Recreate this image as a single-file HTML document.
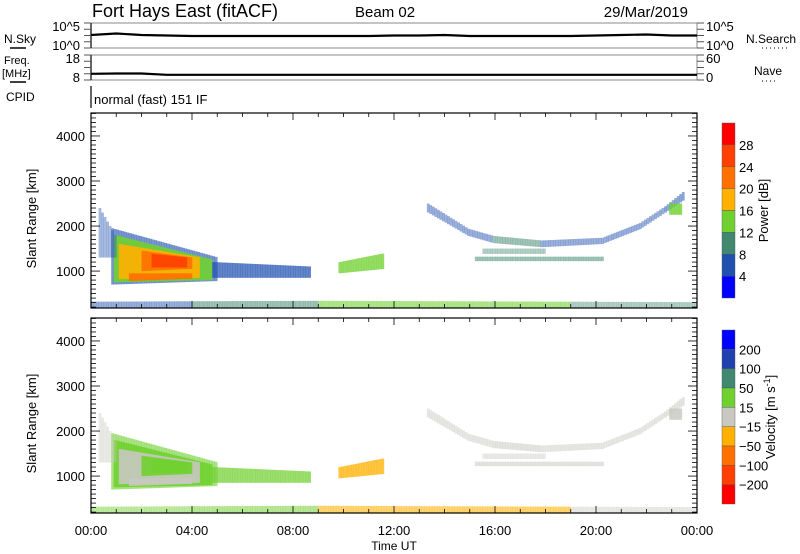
<!DOCTYPE html>
<html><head><meta charset="utf-8">
<style>
html,body{margin:0;padding:0;background:#fff;}
svg{display:block;font-family:"Liberation Sans","DejaVu Sans",sans-serif;}
</style></head>
<body>
<svg id="chart" width="800" height="554" viewBox="0 0 800 554" xmlns="http://www.w3.org/2000/svg">
<g>
<text x="92" y="17" font-size="18">Fort Hays East (fitACF)</text>
<text x="355" y="17" font-size="15">Beam 02</text>
<text x="688" y="17" font-size="15" text-anchor="end">29/Mar/2019</text>
</g>
<g id="top"></g>
<g id="p1"></g>
<g id="p2"></g>
<g id="cb"></g>
</svg>
<script>
// ---- data ----
const patchT0  = [0.8,0.9,1.1,1.5,2.0,2.4,4.8,9.8,0.3, 0,4,9,19, 13.3,14.9,15.9,17.8,20.2,21.7,22.7, 22.9,15.2,15.5];
const patchT1  = [5.0,4.8,4.3,4.0,4.0,3.8,8.7,11.6,1.0, 4,9,19,24, 14.9,15.9,17.8,20.2,21.7,22.7,23.5, 23.4,20.3,18.0];
const patchLo0 = [700,750,820,780,1000,1080,850,950,1300, 180,180,180,180, 2300,1780,1620,1530,1600,1930,2300, 2250,1220,1380];
const patchHi0 = [1950,1800,1600,950,1450,1380,1200,1200,2400, 320,330,340,320, 2500,1940,1780,1680,1740,2070,2440, 2500,1320,1500];
const patchLo1 = [780,800,850,830,1050,1080,850,1050,1300, 180,180,180,180, 1780,1620,1530,1600,1930,2300,2600, 2250,1220,1380];
const patchHi1 = [1300,1250,1300,950,1300,1300,1100,1400,1700, 330,340,320,310, 1940,1780,1680,1740,2070,2440,2800, 2500,1320,1500];
const patchPow = [6,14,18,20,22,26,6,12,6, 6,10,14,8, 6,6,8,6,6,6,6, 14,10,8];
const patchVel = [30,30,0,0,30,30,30,-30,0, 20,20,-30,10, 0,0,0,0,0,0,0, 0,0,0];
const patchOpacity = [0.6,0.9,0.9,0.9,0.9,0.9,0.7,0.75,0.4, 0.45,0.5,0.55,0.4, 0.45,0.45,0.5,0.45,0.45,0.45,0.5, 0.8,0.5,0.4];
const skyValues  = [2.6,2.9,2.6,2.5,2.4,2.4,2.4,2.4,2.4,2.4,2.4,2.4,2.5,2.5,2.6,2.4,2.4,2.4,2.4,2.4,2.5,2.6,2.7,2.5,2.5];
const freqValues = [10.5,10.6,10.6,10.1,10.1,10.1,10.1,10.1,10.1,10.1,10.1,10.1,10.1,10.1,10.1,10.1,10.1,10.1,10.1,10.1,10.1,10.1,10.1,10.1,10.1];
const powerBounds = ["28","24","20","16","12","8","4"];
const velBounds = ["200","100","50","15","\u221215","\u221250","\u2212100","\u2212200"];
const timeLabels = ["00:00","04:00","08:00","12:00","16:00","20:00","00:00"];
const rangeTicks = [1000,2000,3000,4000];

// ---- geometry ----
const X0=91, X1=697;
const xT = t => X0 + t/24*(X1-X0);
const P1 = {top:113,bot:308}, P2 = {top:318,bot:513};
const yR = (r,p) => p.bot - (r-180)/(4510-180)*(p.bot-p.top);
const NS="http://www.w3.org/2000/svg";
function mk(tag,attrs,parent,txt){const e=document.createElementNS(NS,tag);for(const k in attrs)e.setAttribute(k,attrs[k]);if(txt!==undefined)e.textContent=txt;parent.appendChild(e);return e;}
const powCols=["#0000ff","#2050b0","#408870","#70d030","#ffb000","#ff7000","#ff4000","#ff0000"];
const velCols=["#0000ff","#2040b0","#408870","#70d030","#c8c8c0","#ffb000","#ff7000","#ff4000","#ff0000"];
function powColor(v){const i=Math.max(0,Math.min(7,Math.floor(v/4)));return powCols[i];}
function velColor(v){const b=[200,100,50,15,-15,-50,-100,-200];for(let i=0;i<b.length;i++){if(v>=b[i])return velCols[i];}return velCols[8];}

function drawPanel(g,p,isVel){
  for(let i=0;i<patchT0.length;i++){
    const dt=0.1;
    for(let t=patchT0[i];t<patchT1[i]-1e-6;t+=dt){
      const f=(t-patchT0[i])/(patchT1[i]-patchT0[i]);
      const lo=patchLo0[i]+(patchLo1[i]-patchLo0[i])*f;
      const hi=patchHi0[i]+(patchHi1[i]-patchHi0[i])*f;
      const r=mk('rect',{x:xT(t).toFixed(2),y:yR(hi,p).toFixed(2),width:(xT(Math.min(t+dt,patchT1[i]))-xT(t)+0.3).toFixed(2),height:(yR(lo,p)-yR(hi,p)).toFixed(2),fill:isVel?velColor(patchVel[i]):powColor(patchPow[i]),'fill-opacity':patchOpacity[i]},g);
      
      
    }
  }
  mk('rect',{x:X0,y:p.top,width:X1-X0,height:p.bot-p.top,fill:'none',stroke:'#000','stroke-width':1.2},g);
  for(let r=200;r<=4500;r+=100){
    const y=yR(r,p), major=r%1000===0, len=major?9:5;
    mk('line',{x1:X0,x2:X0+len,y1:y,y2:y,stroke:'#000','stroke-width':0.8},g);
    mk('line',{x1:X1,x2:X1-len,y1:y,y2:y,stroke:'#000','stroke-width':0.8},g);
  }
  rangeTicks.forEach(r=>{const t=mk('text',{x:X0-6,y:yR(r,p)+5,'font-size':13,'text-anchor':'end'},g,String(r));});
  for(let h=0;h<=24;h++){
    const x=xT(h), len=h%4===0?7:4;
    mk('line',{x1:x,x2:x,y1:p.bot,y2:p.bot-len,stroke:'#000','stroke-width':0.8},g);
    mk('line',{x1:x,x2:x,y1:p.top,y2:p.top+len,stroke:'#000','stroke-width':0.8},g);
  }
  const cy=(p.top+p.bot)/2+8;
  const lab=mk('text',{x:0,y:0,'font-size':13,'text-anchor':'middle',transform:`translate(36,${cy}) rotate(-90)`},g,'Slant Range [km]');
  
}
drawPanel(document.getElementById('p1'),P1,false);
drawPanel(document.getElementById('p2'),P2,true);

const p2g=document.getElementById('p2');
timeLabels.forEach((l,i)=>{const t=mk('text',{x:xT(i*4),y:535,'font-size':13,'text-anchor':'middle'},p2g,l);});
{const t=mk('text',{x:(X0+X1)/2,y:550,'font-size':12,'text-anchor':'middle'},p2g,'Time UT');}

const topG=document.getElementById('top');
function smallPanel(y0,y1,vals,vmin,vmax,name){
  mk('rect',{x:X0,y:y0,width:X1-X0,height:y1-y0,fill:'none',stroke:'#888','stroke-width':1},topG);
  mk('line',{x1:X0,x2:X0,y1:y0,y2:y1,stroke:'#000','stroke-width':1.2},topG);
  for(let k=0;k<=4;k++){const y=y0+k*(y1-y0)/4;mk('line',{x1:X0-7,x2:X0,y1:y,y2:y,stroke:'#555'},topG);mk('line',{x1:X1,x2:X1+7,y1:y,y2:y,stroke:'#555'},topG);}
  const pts=vals.map((v,i)=>`${xT(i).toFixed(1)},${(y1-(v-vmin)/(vmax-vmin)*(y1-y0)).toFixed(1)}`).join(' ');
  const pl=mk('polyline',{points:pts,fill:'none',stroke:'#000','stroke-width':2.2},topG);
  
}
smallPanel(23,48,skyValues,0,5,'noise-sky-line');
smallPanel(55,80,freqValues,8,18,'frequency-line');
[['10^5',66,31,'end'],['10^0',66,50,'end'],['18',66,63,'end'],['8',66,82,'end'],['10^5',706,31,'start'],['10^0',706,50,'start'],['60',706,63,'start'],['0',706,82,'start']].forEach(a=>{const t=mk('text',{x:a[1]+(a[3]==='end'?14:0),y:a[2],'font-size':13,'text-anchor':a[3]},topG,a[0]);});
[['N.Sky',4,43,12],['Freq.',4,64,11],['[MHz]',2,77,11],['CPID',6,101,12],['N.Search',746,43,12],['Nave',754,75,12],['normal (fast) 151 IF',94,104,13]].forEach(a=>{const t=mk('text',{x:a[1],y:a[2],'font-size':a[3]},topG,a[0]);});
mk('line',{x1:10,x2:26,y1:48,y2:48,stroke:'#000','stroke-width':1.5},topG);
mk('line',{x1:10,x2:26,y1:82,y2:82,stroke:'#000','stroke-width':1.5},topG);
mk('line',{x1:762,x2:790,y1:48,y2:48,stroke:'#000','stroke-dasharray':'1,3'},topG);
mk('line',{x1:762,x2:778,y1:81,y2:81,stroke:'#000','stroke-dasharray':'1,3'},topG);
mk('line',{x1:X0,x2:X0,y1:86,y2:108,stroke:'#000','stroke-width':1.2},topG);

const cb=document.getElementById('cb');
function colorbar(y0,y1,cols,labels,title,tname){
  const h=(y1-y0)/cols.length;
  cols.forEach((c,i)=>{const r=mk('rect',{x:722,y:y0+i*h,width:13,height:h,fill:c,stroke:'#555','stroke-width':0.4},cb);});
  labels.forEach((l,i)=>{const t=mk('text',{x:739,y:y0+(i+1)*h+5,'font-size':13},cb,l);});
  const t=mk('text',{x:0,y:0,'font-size':13,'text-anchor':'middle',transform:`translate(${tname==='p'?768:775},${(y0+y1)/2}) rotate(-90)`},cb);
  
  if(tname==='p'){t.textContent=title;}else{t.textContent='Velocity [m s';mk('tspan',{dy:-5,'font-size':9},t,'-1');mk('tspan',{dy:5},t,']');}
}
colorbar(123,298,powCols.slice().reverse(),powerBounds,'Power [dB]','p');
colorbar(330,504,velCols,velBounds,'Velocity','v');
</script>
</body></html>
